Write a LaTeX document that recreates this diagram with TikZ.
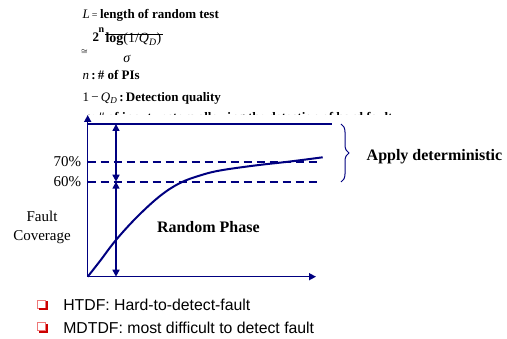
\documentclass[tikz,border=0pt]{standalone}
\usepackage{fontspec}
\setmainfont{Liberation Serif}
\newfontfamily\arialf{Liberation Sans}
\usetikzlibrary{arrows.meta,decorations.pathreplacing}
\definecolor{navy}{RGB}{0,0,128}
\definecolor{bulletlight}{RGB}{238,120,120}
\definecolor{bulletdark}{RGB}{204,0,0}
\newcommand\fsz[1]{\fontsize{#1}{#1}\selectfont}
\begin{document}
\begin{tikzpicture}[x=1pt,y=-1pt,
  every node/.style={inner sep=0pt, outer sep=0pt},
  axisline/.style={navy, line width=1.5pt},
  tipend/.style={-{Triangle[length=7pt,width=7pt]}},
  tipboth/.style={{Triangle[length=7pt,width=7pt]}-{Triangle[length=7pt,width=7pt]}},
  dashline/.style={navy, line width=2pt, dash pattern=on 8pt off 5pt},
  curveline/.style={navy, line width=2pt},
  toptext/.style={anchor=base west, font=\fsz{13}},
  chartlabel/.style={font=\fsz{15}},
  boldlabel/.style={anchor=west, font=\fsz{16}\bfseries},
  bullettext/.style={anchor=base west, font=\arialf\fsz{15.8}},
  qbullet/.pic={
    \draw[bulletlight, line width=0.8pt] (0,0) rectangle (8,8);
    \draw[bulletdark, line width=2pt] (1.5,9) -- (9,9) -- (9,1.5);
  }]
\useasboundingbox (0,0) rectangle (507,339);

% ---- top formula text ----
\node[toptext] (Lrow) at (82.7,18.3) {{\itshape L}\hspace{2pt}{\fsz{10}=}\hspace{2.5pt}\bfseries length of random test};
\node[toptext] (two) at (92.5,42) {\bfseries 2};
\node[anchor=base west, font=\fsz{10}\bfseries] (supn) at (98.5,32.5) {n};
\node[anchor=base west, font=\fsz{14}] (logt) at (105.5,43) {\textbf{log}(1/\textit{Q}\textsubscript{\textit{D}})};
\draw[black, line width=0.6pt] (105,34) -- (163,34);
\node (cong) at (84.5,52) {\fsz{8}$\cong$};
\node[anchor=base, font=\fsz{14}] (sig) at (127,62.5) {\textit{σ}};
\node[toptext] (nrow) at (82.7,80) {\textit{n}\,\textbf{:\,\# of PIs}};
\node[toptext] (qrow) at (82.7,101.5) {1\,−\,\textit{Q}\textsubscript{\textit{D}}\,\textbf{:\,Detection quality}};
\begin{scope}
  \clip (80,105) rectangle (420,114.3);
  \node[toptext] (hidrow) at (82.7,121.5) {\textit{σ}\,\textbf{:\,\# of input vectors allowing the detection of hard fault}};
\end{scope}

% ---- chart ----
\coordinate (O) at (87.7,276.7);
\coordinate (Ytop) at (87.7,115);
\coordinate (Xend) at (316,276.7);
\coordinate (TL) at (87.7,124);
\coordinate (TR) at (332,124);
\coordinate (A70) at (87.7,161.7);
\coordinate (B70) at (318,161.7);
\coordinate (A60) at (87.7,181.7);
\coordinate (B60) at (318,181.7);
\coordinate (Vtop) at (116,124);
\coordinate (Vmid) at (116,181.7);
\coordinate (Vbot) at (116,276.7);
\coordinate (Btop) at (341,124);
\coordinate (Bbot) at (341,182);

\draw[axisline, tipend] (O) -- (Ytop);
\draw[axisline, tipend] (O) -- (Xend);
\draw[axisline] (TL) -- (TR);
\draw[dashline] (A70) -- (B70);
\draw[dashline] (A60) -- (B60);
\draw[axisline, tipboth] (Vtop) -- (Vmid);
\draw[axisline, tipboth] (Vmid) -- (Vbot);
\draw[curveline] plot[smooth, tension=0.6] coordinates {
  (87.7,276.7) (100,261) (116,240) (137,217) (160,196) (180,183)
  (200,175.5) (220,170.5) (255,165.5) (290,161.5) (322.7,157.3)};
\draw[navy, line width=1pt, decorate, decoration={brace, amplitude=8pt}] (Btop) -- (Bbot);

\node[chartlabel, anchor=east] (p70) at (81,161.7) {70\%};
\node[chartlabel, anchor=east] (p60) at (81,181.7) {60\%};
\node[align=center, font=\fontsize{15}{19}\selectfont] (fc) at (42,227) {Fault\\Coverage};
\node[boldlabel] (rp) at (157,227.3) {Random Phase};
\node[boldlabel] (ad) at (366.7,156.7) {Apply deterministic};

% ---- bullets ----
\pic at (37.5,300) {qbullet};
\pic at (37.5,322.7) {qbullet};
\node[bullettext] (b1) at (63.3,310.5) {HTDF: Hard-to-detect-fault};
\node[bullettext] (b2) at (63.3,333.2) {MDTDF: most difficult to detect fault};
\end{tikzpicture}
\end{document}
